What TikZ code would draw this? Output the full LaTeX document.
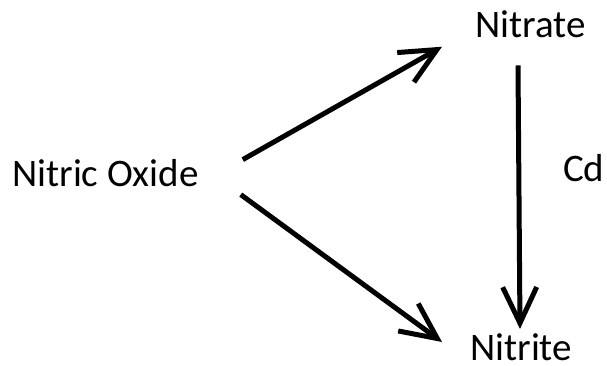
\documentclass[tikz,border=0pt]{standalone}
\usepackage{fontspec}
\setmainfont{Carlito}
\usetikzlibrary{arrows.meta, calc, positioning}

\begin{document}
\begin{tikzpicture}[x=1pt, y=-1pt,
    label/.style={inner sep=0pt, anchor=base west, font=\fontsize{39}{45}\selectfont},
    arr/.style={line width=5pt, -{Straight Barb[length=36pt, width=34pt, line width=5pt]}}]
    % Frame
    \useasboundingbox (0,0) rectangle (607,366);

    % Species
    \node[label] (ox) at (12,186) {Nitric Oxide};
    \node[label] (no3) at (475,38) {Nitrate};
    \node[label] (no2) at (470,360) {Nitrite};
    \node[label] (cd) at (563,182) {Cd};

    % Reactions
    \draw[arr] ([shift={(44,-13)}]ox.east) -- ([shift={(-33,22)}]no3.west);
    \draw[arr] ([shift={(42,22)}]ox.east) -- ([shift={(-28,9)}]no2.north west);
    \draw[arr] ([shift={(43,27)}]no3.south west) -- ([shift={(50,-4)}]no2.north west);
\end{tikzpicture}
\end{document}
